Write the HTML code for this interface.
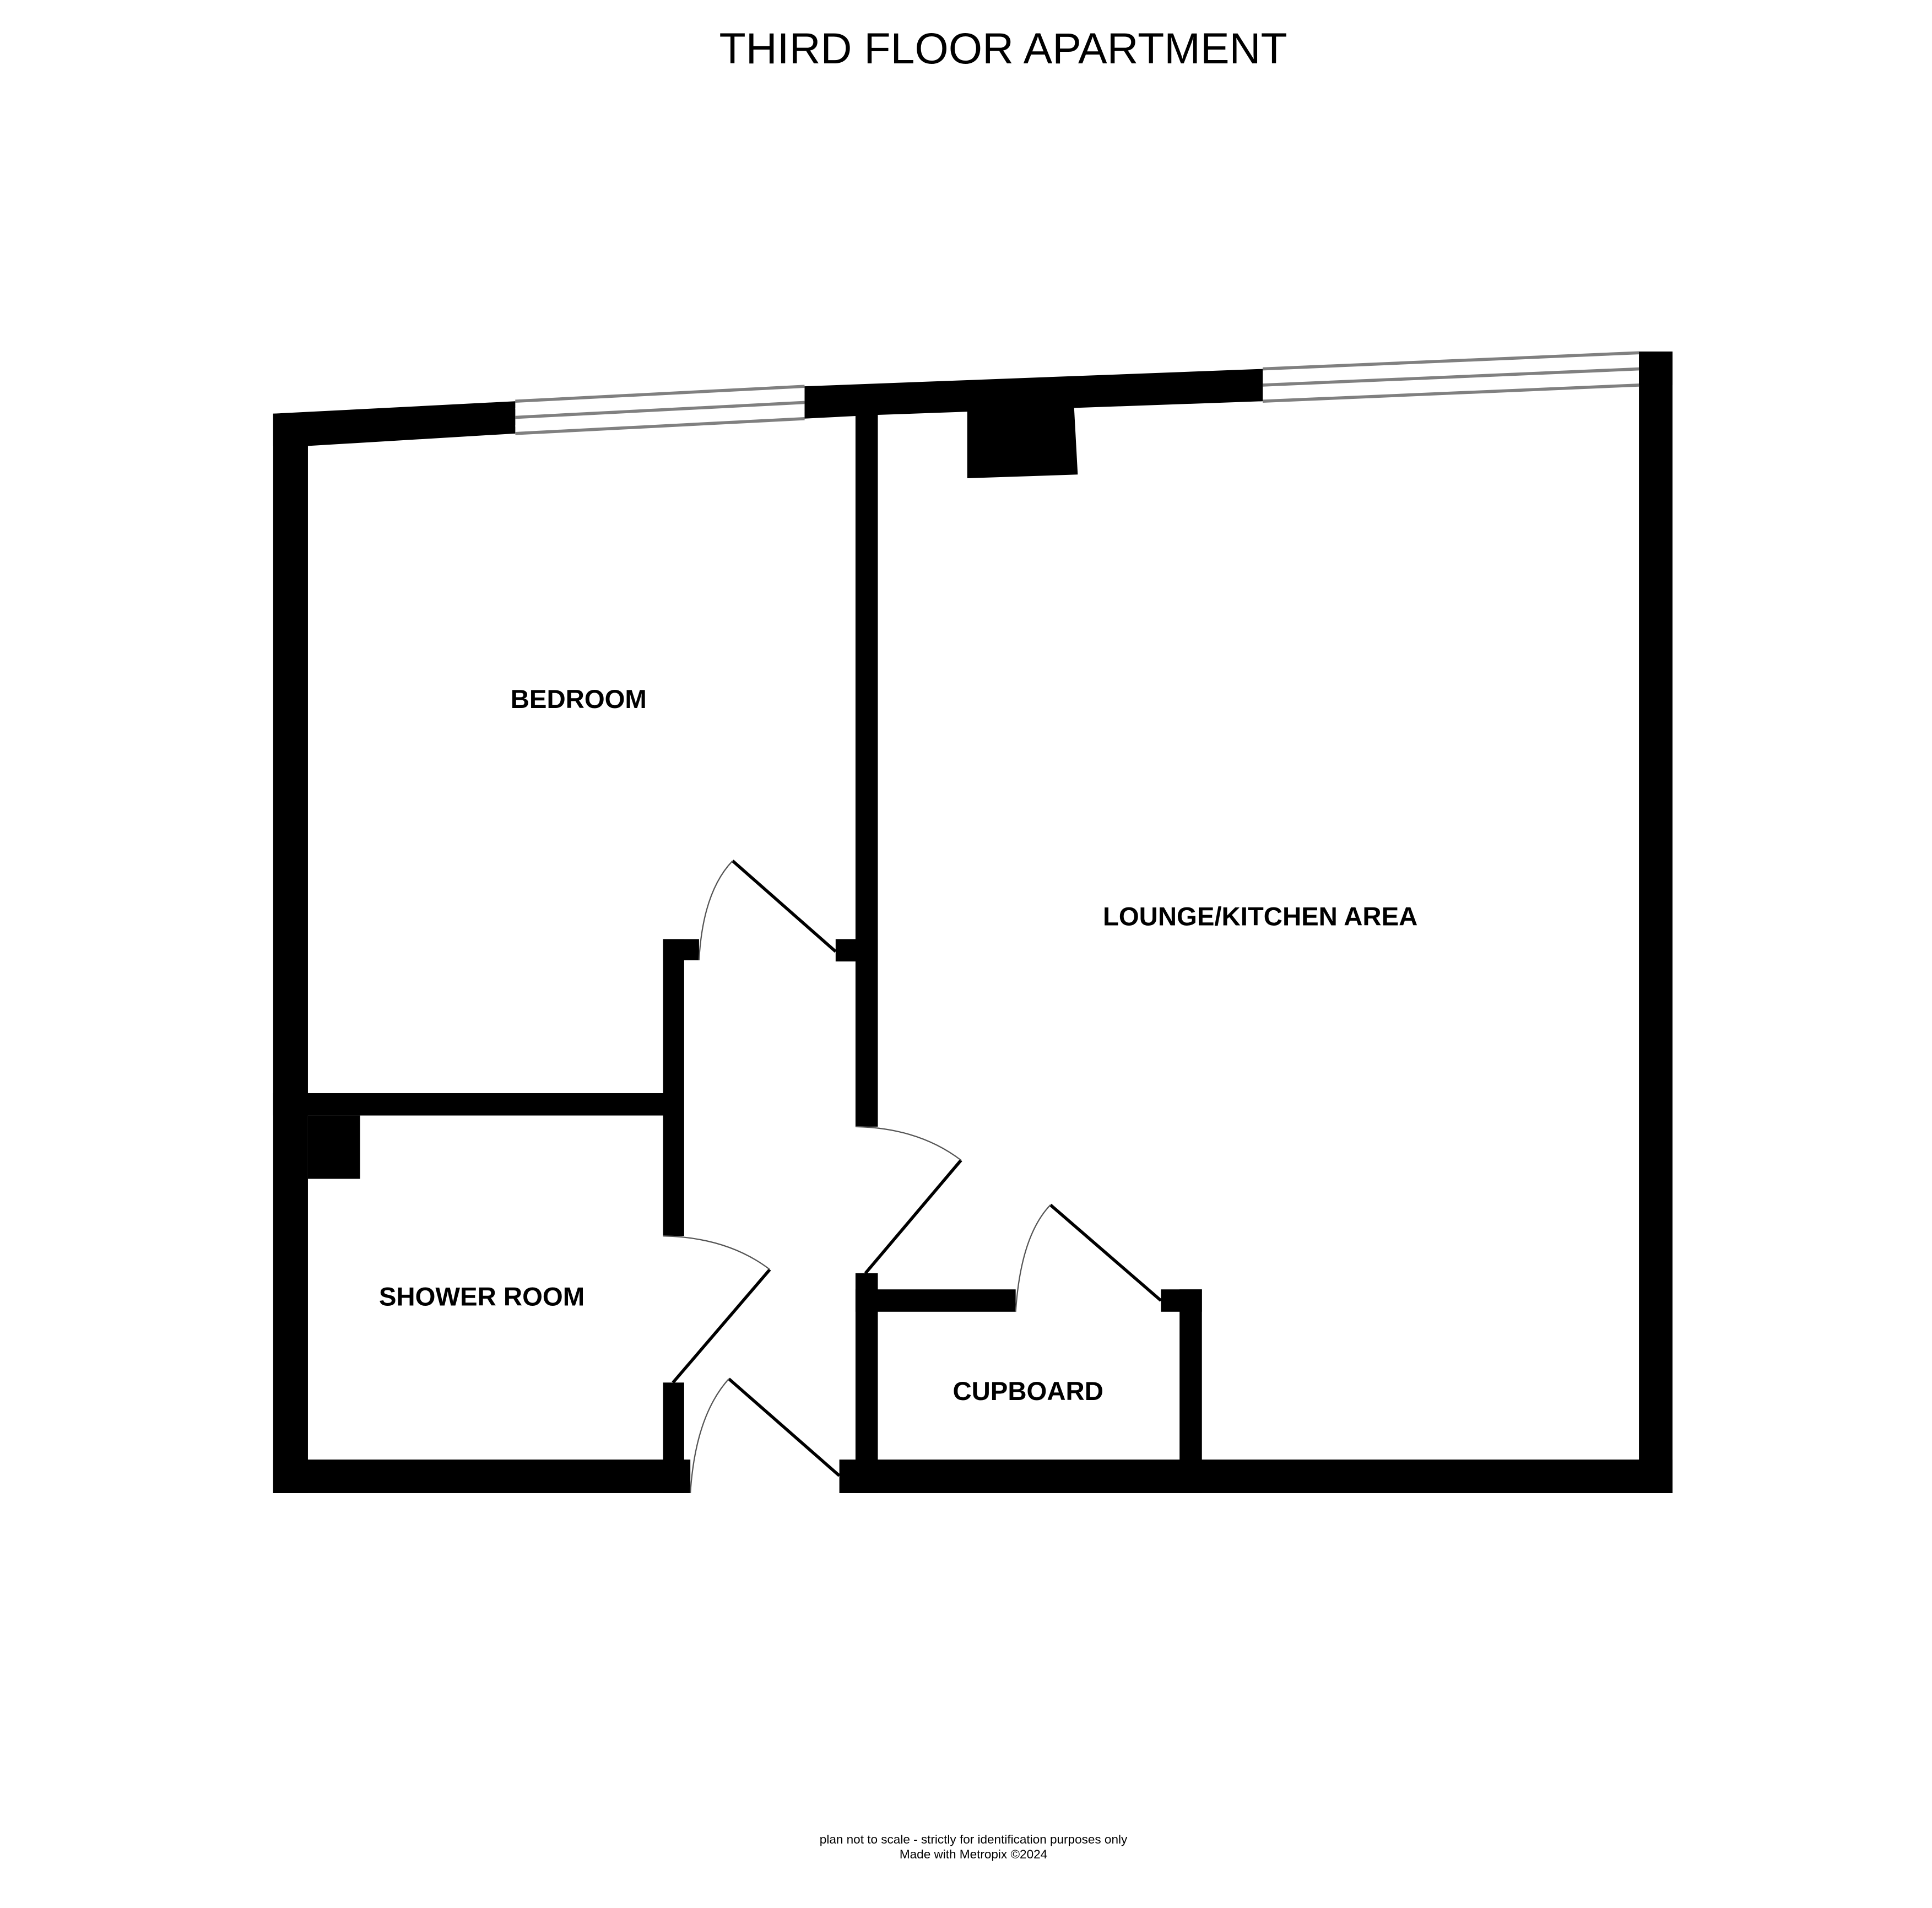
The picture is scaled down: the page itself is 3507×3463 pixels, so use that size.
<!DOCTYPE html>
<html><head><meta charset="utf-8"><style>
html,body{margin:0;padding:0;background:#fff;}
svg{display:block;}
</style></head><body>
<svg width="3507" height="3463" viewBox="0 0 1556 1536" preserveAspectRatio="none" xmlns="http://www.w3.org/2000/svg">
<rect width="1556" height="1536" fill="#fff"/>
<text x="808" y="51" font-family="Liberation Sans, sans-serif" font-size="35" text-anchor="middle">THIRD FLOOR APARTMENT</text>
<g fill="#000">
<!-- top wall slanted segments -->
<polygon points="220,333 415,323 415,349 248,359 220,359"/>
<polygon points="648,311 1017,297 1017,323 707,334 648,337"/>
<polygon points="1320,283 1347,283 1347,310 1320,310"/>
<!-- left wall -->
<rect x="220" y="333" width="28" height="869"/>
<!-- right wall -->
<rect x="1320" y="283" width="27" height="919"/>
<!-- bottom walls -->
<rect x="220" y="1175" width="336" height="27"/>
<rect x="676" y="1175" width="671" height="27"/>
<!-- partition bedroom/lounge -->
<rect x="689" y="322" width="18" height="585"/>
<rect x="673" y="756" width="34" height="18"/>
<!-- chimney -->
<polygon points="779,330 865,327 868,382 779,385"/>
<!-- shower/bedroom partition -->
<rect x="220" y="880" width="330" height="18"/>
<rect x="248" y="898" width="42" height="51"/>
<!-- hall walls -->
<rect x="534" y="756" width="17" height="239"/>
<rect x="534" y="756" width="29" height="17"/>
<rect x="534" y="1113" width="17" height="89"/>
<!-- cupboard -->
<rect x="689" y="1025" width="18" height="177"/>
<rect x="689" y="1038" width="129" height="18"/>
<rect x="950" y="1038" width="18" height="164"/>
<rect x="935" y="1038" width="33" height="18"/>
</g>
<!-- windows -->
<g stroke="#808080" stroke-width="2.5" fill="none">
<line x1="415" y1="323" x2="648" y2="311"/>
<line x1="415" y1="336" x2="648" y2="324"/>
<line x1="415" y1="349" x2="648" y2="337"/>
<line x1="1017" y1="297" x2="1320" y2="284"/>
<line x1="1017" y1="310" x2="1320" y2="297"/>
<line x1="1017" y1="323" x2="1320" y2="310"/>
</g>
<g stroke="#fff" stroke-width="1" fill="none">
<line x1="415" y1="329" x2="648" y2="317"/>
<line x1="415" y1="343" x2="648" y2="331"/>
</g>
<!-- doors -->
<g stroke="#000" stroke-width="2.5" fill="none">
<line x1="673" y1="766" x2="590" y2="693"/>
<line x1="697" y1="1025" x2="774" y2="934"/>
<line x1="542" y1="1113" x2="620" y2="1022"/>
<line x1="676" y1="1188" x2="587" y2="1110"/>
<line x1="935" y1="1047" x2="846" y2="970"/>
</g>
<g stroke="#555" stroke-width="1" fill="none">
<path d="M590,693 Q566,718 563,773"/>
<path d="M774,934 Q740,908 689,907"/>
<path d="M620,1022 Q586,996 534,995"/>
<path d="M587,1110 Q560,1140 556,1202"/>
<path d="M846,970 Q822,995 818,1056"/>
</g>
<g font-family="Liberation Sans, sans-serif" font-weight="bold" font-size="21" text-anchor="middle">
<text x="466" y="570">BEDROOM</text>
<text x="1015" y="745">LOUNGE/KITCHEN AREA</text>
<text x="388" y="1051">SHOWER ROOM</text>
<text x="828" y="1127">CUPBOARD</text>
</g>
<g font-family="Liberation Sans, sans-serif" font-size="10" text-anchor="middle">
<text x="784" y="1484">plan not to scale - strictly for identification purposes only</text>
<text x="784" y="1496">Made with Metropix ©2024</text>
</g>
</svg>
</body></html>
